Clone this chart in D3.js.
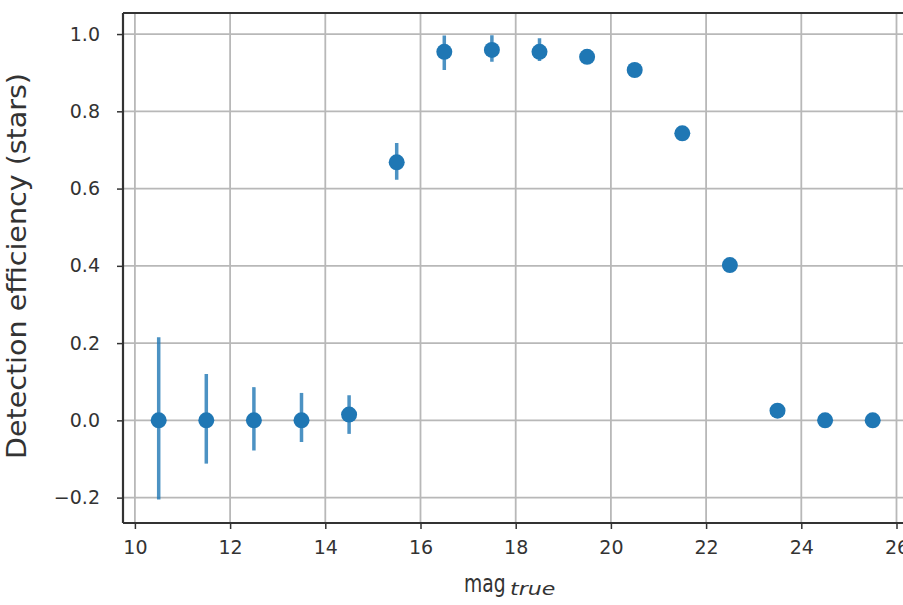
<!DOCTYPE html>
<html><head><meta charset="utf-8">
<script src="https://cdn.jsdelivr.net/npm/d3@7"></script>
<style>body{margin:0;background:#fff}svg{display:block}</style>
</head><body>
<script>
const magBins = [10.5, 11.5, 12.5, 13.5, 14.5, 15.5, 16.5, 17.5, 18.5, 19.5, 20.5, 21.5, 22.5, 23.5, 24.5, 25.5];
const efficiency = [0.0, 0.0, 0.0, 0.0, 0.015, 0.668, 0.954, 0.959, 0.954, 0.941, 0.907, 0.743, 0.402, 0.025, 0.0, 0.0];
const errLow = [0.205, 0.112, 0.078, 0.056, 0.05, 0.045, 0.047, 0.031, 0.024, 0.015, 0.012, 0.008, 0.008, 0.006, 0.002, 0.001];
const errHigh = [0.215, 0.12, 0.086, 0.071, 0.05, 0.05, 0.042, 0.038, 0.035, 0.015, 0.012, 0.008, 0.008, 0.006, 0.002, 0.001];
const xTicks = [10, 12, 14, 16, 18, 20, 22, 24, 26];
const yTicks = [-0.2, 0.0, 0.2, 0.4, 0.6, 0.8, 1.0];

(function () {
const W = 903, H = 605;
const svg = d3.select("body").append("svg").attr("width", W).attr("height", H);
const mLeft = 123, mTop = 13, mBottom = 523;
const x = d3.scaleLinear().domain([9.75, 26.25]).range([mLeft, mLeft + 16.5 * 47.6]);
const y = d3.scaleLinear().domain([-0.2657, 1.0545]).range([mBottom, mTop]);
const mRight = x.range()[1];
const font = "DejaVu Sans";

svg.append("defs").append("clipPath").attr("id", "clip")
  .append("rect").attr("x", mLeft).attr("y", mTop).attr("width", mRight - mLeft).attr("height", mBottom - mTop);

const g = svg.append("g");
g.selectAll(".vg").data(xTicks).join("line")
  .attr("x1", d => x(d)).attr("x2", d => x(d)).attr("y1", mTop).attr("y2", mBottom)
  .attr("stroke", "#b8b8b8").attr("stroke-width", 1.8);
g.selectAll(".hg").data(yTicks).join("line")
  .attr("x1", mLeft).attr("x2", mRight).attr("y1", d => y(d)).attr("y2", d => y(d))
  .attr("stroke", "#b8b8b8").attr("stroke-width", 1.8);

const xAxis = d3.axisBottom(x).tickValues(xTicks).tickSize(6).tickPadding(12).tickFormat(d3.format("d"));
const yAxis = d3.axisLeft(y).tickValues(yTicks).tickSize(6).tickPadding(17)
  .tickFormat(d => d < 0 ? "\u2212" + Math.abs(d).toFixed(1) : d.toFixed(1));
const gx = svg.append("g").attr("transform", `translate(0,${mBottom})`).call(xAxis);
const gy = svg.append("g").attr("transform", `translate(${mLeft},0)`).call(yAxis);
[gx, gy].forEach(a => {
  a.select(".domain").remove();
  a.selectAll(".tick line").attr("stroke", "#333").attr("stroke-width", 1.5);
  a.selectAll(".tick text").attr("font-family", font).attr("font-size", 19).attr("fill", "#333");
});

const pts = magBins.map((m, i) => ({m, v: efficiency[i], lo: errLow[i], hi: errHigh[i]}));
const dg = svg.append("g").attr("clip-path", "url(#clip)");
dg.selectAll(".eb").data(pts).join("line")
  .attr("x1", d => x(d.m)).attr("x2", d => x(d.m))
  .attr("y1", d => y(d.v - d.lo)).attr("y2", d => y(d.v + d.hi))
  .attr("stroke", "#1f77b4").attr("stroke-opacity", 0.8).attr("stroke-width", 3.5);
dg.selectAll(".pt").data(pts).join("circle")
  .attr("cx", d => x(d.m)).attr("cy", d => y(d.v)).attr("r", 8)
  .attr("fill", "#1f77b4");

const spine = (x1, y1, x2, y2) => svg.append("line").attr("x1", x1).attr("y1", y1).attr("x2", x2).attr("y2", y2)
  .attr("stroke", "#333").attr("stroke-width", 2.2);
spine(mLeft, mTop, mLeft, mBottom);
spine(mLeft, mBottom, mRight, mBottom);
spine(mLeft, mTop, mRight, mTop);
spine(mRight, mTop, mRight, mBottom);

svg.append("text").attr("transform", "translate(464,592) scale(0.78,1)")
  .attr("font-family", font).attr("font-size", 24).attr("fill", "#333").text("mag");
svg.append("text").attr("transform", "translate(510,595) scale(1.3,1)")
  .attr("font-family", font).attr("font-size", 17).attr("font-style", "italic").attr("fill", "#333")
  .text("true");
svg.append("text").attr("transform", `translate(26,266) rotate(-90)`)
  .attr("text-anchor", "middle").attr("font-family", font).attr("font-size", 27).attr("fill", "#333")
  .attr("textLength", 386).attr("lengthAdjust", "spacingAndGlyphs")
  .text("Detection efficiency (stars)");
})();
</script>
</body></html>
